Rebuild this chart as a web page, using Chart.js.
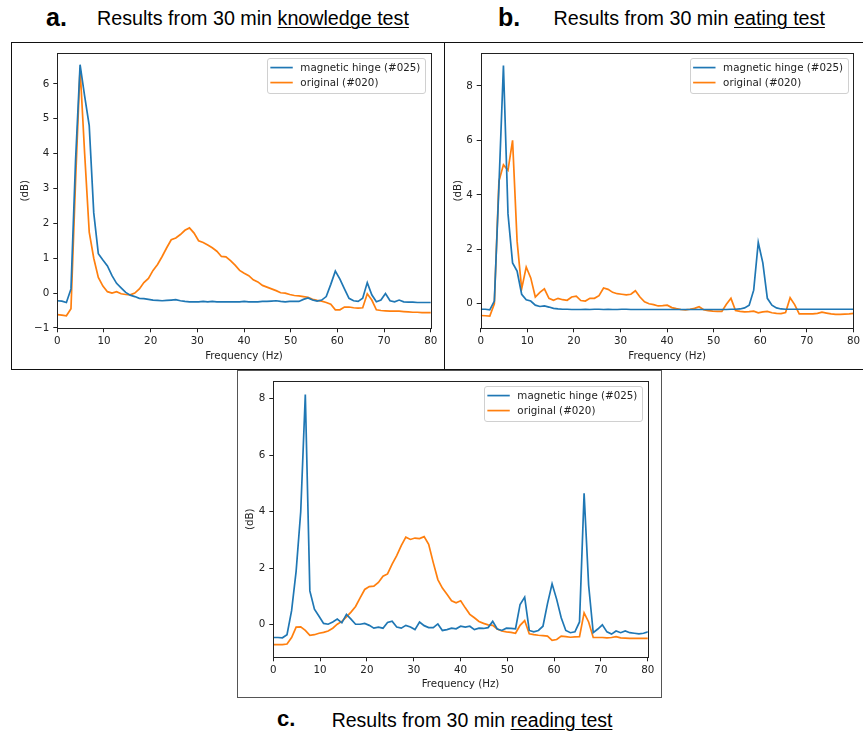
<!DOCTYPE html>
<html>
<head>
<meta charset="utf-8">
<title>Frequency response: magnetic hinge vs original</title>
<script src="https://cdn.jsdelivr.net/npm/chart.js@4.4.1/dist/chart.umd.min.js"></script>
<style>
  html, body { margin: 0; padding: 0; background: #fff; }
  body { width: 863px; height: 733px; position: relative; overflow: hidden;
         font-family: 'Liberation Sans', Arial, sans-serif; color: #000; }
  .frame { position: absolute; box-sizing: border-box; border: 1px solid #111; }
  .panel { position: absolute; }
  .panel canvas { display: block; }
  .ttl { position: absolute; line-height: 1; white-space: nowrap; }
  .ttl u { text-decoration-thickness: 1.4px; text-underline-offset: 2px; }
</style>
</head>
<body>

<div class="frame" style="left:11px;top:42px;width:434px;height:328px"></div>
<div class="frame" style="left:444px;top:42px;width:430px;height:328px"></div>
<div class="frame" style="left:237px;top:370px;width:425px;height:328px;border-color:#555"></div>

<div class="ttl" style="left:46px;top:4.8px;font-size:25px;font-weight:bold">a.</div>
<div class="ttl" style="left:97px;top:9.3px;font-size:19.7px">Results from 30 min <u>knowledge test</u></div>
<div class="ttl" style="left:498px;top:4.8px;font-size:25px;font-weight:bold">b.</div>
<div class="ttl" style="left:553.5px;top:9.3px;font-size:19.7px">Results from 30 min <u>eating test</u></div>
<div class="ttl" style="left:277px;top:708.4px;font-size:22px;font-weight:bold">c.</div>
<div class="ttl" style="left:331.7px;top:710.5px;font-size:19.5px">Results from 30 min <u>reading test</u></div>

<div class="panel" style="left:12px;top:43px"><canvas id="chartA" width="432" height="326"></canvas></div>
<div class="panel" style="left:445px;top:43px"><canvas id="chartB" width="418" height="326"></canvas></div>
<div class="panel" style="left:238px;top:371px"><canvas id="chartC" width="423" height="326"></canvas></div>

<script>
// FFT bin frequencies (Hz)
const freqHz = [0, 0.98, 1.95, 2.93, 3.91, 4.88, 5.86, 6.84, 7.81, 8.79,
  9.77, 10.74, 11.72, 12.70, 13.67, 14.65, 15.63, 16.60, 17.58, 18.55,
  19.53, 20.51, 21.48, 22.46, 23.44, 24.41, 25.39, 26.37, 27.34, 28.32,
  29.30, 30.27, 31.25, 32.23, 33.20, 34.18, 35.16, 36.13, 37.11, 38.09,
  39.06, 40.04, 41.02, 41.99, 42.97, 43.95, 44.92, 45.90, 46.88, 47.85,
  48.83, 49.80, 50.78, 51.76, 52.73, 53.71, 54.69, 55.66, 56.64, 57.62,
  58.59, 59.57, 60.55, 61.52, 62.50, 63.48, 64.45, 65.43, 66.41, 67.38,
  68.36, 69.34, 70.31, 71.29, 72.27, 73.24, 74.22, 75.20, 76.17, 77.15,
  78.13, 79.10, 80.08];

const seriesNames = ['magnetic hinge (#025)', 'original (#020)'];
const seriesColors = ['#1f77b4', '#ff7f0e'];
const xTicks = [0, 10, 20, 30, 40, 50, 60, 70, 80];

// (a) knowledge test
const knowledgeHinge = [-0.22, -0.23, -0.27, 0.12, 3.8, 6.55, 5.65, 4.8, 2.3, 1.13,
  0.95, 0.78, 0.5, 0.28, 0.15, 0.02, -0.06, -0.1, -0.15, -0.16,
  -0.18, -0.2, -0.21, -0.22, -0.21, -0.2, -0.19, -0.22, -0.24, -0.25,
  -0.25, -0.25, -0.24, -0.25, -0.24, -0.25, -0.25, -0.25, -0.25, -0.25,
  -0.25, -0.24, -0.25, -0.25, -0.25, -0.24, -0.24, -0.23, -0.22, -0.24,
  -0.25, -0.24, -0.24, -0.24, -0.18, -0.14, -0.2, -0.23, -0.2, -0.1,
  0.25, 0.63, 0.4, 0.12, -0.15, -0.22, -0.24, -0.15, 0.3, -0.05,
  -0.25, -0.2, -0.01, -0.22, -0.25, -0.2, -0.25, -0.26, -0.26, -0.27,
  -0.27, -0.27, -0.27];
const knowledgeOriginal = [-0.62, -0.63, -0.65, -0.45, 3.2, 6.45, 4.0, 1.75, 1.0, 0.45,
  0.2, 0.04, 0.0, 0.04, -0.02, -0.04, -0.05, 0.0, 0.12, 0.3,
  0.42, 0.65, 0.82, 1.05, 1.3, 1.53, 1.58, 1.68, 1.8, 1.87,
  1.72, 1.5, 1.45, 1.38, 1.3, 1.2, 1.05, 1.04, 0.93, 0.8,
  0.65, 0.57, 0.5, 0.38, 0.32, 0.22, 0.17, 0.12, 0.07, 0.01,
  0.0, -0.04, -0.07, -0.08, -0.1, -0.12, -0.18, -0.21, -0.23, -0.27,
  -0.32, -0.48, -0.48, -0.4, -0.4, -0.42, -0.43, -0.42, -0.02, -0.2,
  -0.48, -0.5, -0.51, -0.52, -0.52, -0.52, -0.53, -0.54, -0.55, -0.55,
  -0.56, -0.56, -0.56];

// (b) eating test
const eatingHinge = [-0.2, -0.2, -0.22, 0.1, 4.3, 8.75, 3.3, 1.5, 1.2, 0.35,
  0.15, 0.1, -0.05, -0.1, -0.08, -0.12, -0.17, -0.19, -0.2, -0.2,
  -0.21, -0.21, -0.21, -0.2, -0.21, -0.2, -0.2, -0.21, -0.2, -0.21,
  -0.21, -0.2, -0.2, -0.21, -0.21, -0.21, -0.21, -0.21, -0.21, -0.21,
  -0.21, -0.21, -0.21, -0.21, -0.21, -0.21, -0.21, -0.21, -0.21, -0.21,
  -0.21, -0.21, -0.21, -0.21, -0.21, -0.2, -0.2, -0.19, -0.15, -0.05,
  0.5, 2.25, 1.5, 0.2, -0.05, -0.15, -0.19, -0.2, -0.2, -0.2,
  -0.2, -0.2, -0.2, -0.2, -0.2, -0.2, -0.2, -0.2, -0.2, -0.2,
  -0.2, -0.2, -0.2];
const eatingOriginal = [-0.43, -0.44, -0.45, 0.0, 4.5, 5.1, 4.9, 6.0, 2.3, 0.55,
  1.35, 0.95, 0.25, 0.42, 0.55, 0.2, 0.13, 0.2, 0.15, 0.13,
  0.25, 0.28, 0.12, 0.1, 0.2, 0.2, 0.3, 0.58, 0.53, 0.42,
  0.37, 0.35, 0.33, 0.35, 0.48, 0.25, 0.07, 0.0, -0.03, -0.08,
  -0.07, -0.05, -0.14, -0.18, -0.21, -0.22, -0.2, -0.17, -0.11, -0.22,
  -0.25, -0.27, -0.28, -0.28, -0.02, 0.2, -0.25, -0.28, -0.3, -0.29,
  -0.27, -0.33, -0.3, -0.28, -0.33, -0.35, -0.36, -0.32, 0.22, -0.03,
  -0.37, -0.37, -0.37, -0.37, -0.35, -0.31, -0.34, -0.37, -0.39, -0.39,
  -0.38, -0.37, -0.35];

// (c) reading test
const readingHinge = [-0.45, -0.45, -0.46, -0.35, 0.5, 1.9, 4.0, 8.15, 1.2, 0.55,
  0.3, 0.05, 0.02, 0.1, 0.2, 0.07, 0.37, 0.2, 0.02, 0.02,
  0.05, -0.02, -0.12, -0.08, -0.12, 0.08, 0.13, -0.08, -0.12, -0.02,
  -0.08, -0.17, 0.1, -0.03, -0.1, -0.1, 0.03, -0.2, -0.17, -0.12,
  -0.14, -0.05, -0.08, -0.05, -0.17, -0.12, -0.13, -0.1, 0.12, -0.15,
  -0.2, -0.12, -0.13, -0.14, 0.72, 0.98, -0.2, -0.25, -0.2, -0.05,
  0.75, 1.45, 0.9, 0.25, -0.2, -0.28, -0.25, 0.1, 4.65, 1.4,
  -0.28, -0.15, 0.0, -0.25, -0.33, -0.22, -0.28, -0.22, -0.28, -0.3,
  -0.32, -0.3, -0.25];
const readingOriginal = [-0.7, -0.7, -0.7, -0.68, -0.45, -0.08, -0.07, -0.2, -0.37, -0.35,
  -0.3, -0.27, -0.22, -0.12, 0.02, 0.12, 0.28, 0.45, 0.65, 0.95,
  1.25, 1.35, 1.37, 1.5, 1.72, 1.8, 2.15, 2.45, 2.8, 3.1,
  3.02, 3.07, 3.05, 3.12, 2.85, 2.2, 1.6, 1.3, 1.08, 0.85,
  0.78, 0.85, 0.6, 0.37, 0.25, 0.12, 0.05, 0.0, -0.02, -0.15,
  -0.22, -0.25, -0.27, -0.3, -0.02, 0.15, -0.32, -0.35, -0.37, -0.38,
  -0.4, -0.55, -0.52, -0.4, -0.42, -0.44, -0.43, -0.42, 0.42, 0.1,
  -0.45, -0.45, -0.45, -0.46, -0.45, -0.42, -0.46, -0.47, -0.48, -0.48,
  -0.48, -0.48, -0.48];

const yTicksA = [-1, 0, 1, 2, 3, 4, 5, 6];
const yTicksB = [0, 2, 4, 6, 8];
const yTicksC = [0, 2, 4, 6, 8];

const FONT = "'DejaVu Sans', 'Noto Sans', sans-serif";
const FONT_SIZE = 10.3;
const INK = '#222';

Chart.defaults.font.family = FONT;
Chart.defaults.font.size = FONT_SIZE;
Chart.defaults.color = INK;

// closed box around the plotting area
const axesFrame = {
  id: 'axesFrame',
  afterDatasetsDraw(chart) {
    const { ctx, chartArea: a } = chart;
    ctx.save();
    ctx.strokeStyle = INK;
    ctx.lineWidth = 1;
    const l = Math.round(a.left) + 0.5, t = Math.round(a.top) + 0.5;
    const r = Math.round(a.right) + 0.5, b = Math.round(a.bottom) + 0.5;
    ctx.strokeRect(l, t, r - l, b - t);
    ctx.restore();
  }
};

// legend box in the upper-right corner of the plotting area
const cornerLegend = {
  id: 'cornerLegend',
  afterDraw(chart) {
    const { ctx, chartArea: a } = chart;
    const ds = chart.data.datasets;
    ctx.save();
    ctx.font = FONT_SIZE + 'px ' + FONT;
    const textW = Math.max(...ds.map(d => ctx.measureText(d.label).width));
    const padL = 3.3, handle = 22.4, gap = 7.6, padR = 5;
    const w = padL + handle + gap + textW + padR;
    const h = 35;
    const right = a.right - 5.4;
    const top = a.top + 4.4;
    const left = right - w;
    ctx.beginPath();
    ctx.roundRect(Math.round(left) + 0.5, Math.round(top) + 0.5, Math.round(w), h, 2.5);
    ctx.fillStyle = 'rgba(255,255,255,0.85)';
    ctx.fill();
    ctx.strokeStyle = '#d0d0d0';
    ctx.lineWidth = 1;
    ctx.stroke();
    ds.forEach((d, i) => {
      const y = top + 10 + i * 15;
      ctx.strokeStyle = d.borderColor;
      ctx.lineWidth = d.borderWidth;
      ctx.beginPath();
      ctx.moveTo(left + padL, y);
      ctx.lineTo(left + padL + handle, y);
      ctx.stroke();
      ctx.fillStyle = INK;
      ctx.textBaseline = 'middle';
      ctx.textAlign = 'left';
      ctx.fillText(d.label, left + padL + handle + gap, y + 0.5);
    });
    ctx.restore();
  }
};

function minusFmt(v) {
  return (v < 0 ? '\u2212' : '') + Math.abs(v);
}

function makeChart(id, hinge, original, cfg) {
  const toPoints = arr => freqHz.map((f, i) => ({ x: f, y: arr[i] }));
  const values = [hinge, original];
  return new Chart(document.getElementById(id), {
    type: 'line',
    data: {
      datasets: seriesNames.map((name, s) => ({
        label: name,
        data: toPoints(values[s]),
        borderColor: seriesColors[s],
        backgroundColor: seriesColors[s],
        borderWidth: 1.7,
        pointRadius: 0,
        tension: 0,
        fill: false
      }))
    },
    options: {
      responsive: false,
      animation: false,
      events: [],
      layout: { padding: { left: 0, top: cfg.padTop, right: cfg.padRight, bottom: 0 } },
      plugins: { legend: { display: false }, tooltip: { enabled: false } },
      scales: {
        x: {
          type: 'linear',
          min: 0, max: 80,
          afterBuildTicks: sc => { sc.ticks = xTicks.map(v => ({ value: v })); },
          afterFit: sc => { sc.height = cfg.xHeight; },
          ticks: { maxRotation: 0, autoSkip: false, padding: 3, color: INK },
          grid: { drawOnChartArea: false, drawTicks: true, tickLength: 4, color: INK, lineWidth: 1 },
          border: { display: false },
          title: { display: true, text: 'Frequency (Hz)', color: INK,
                   padding: { top: 0, bottom: 6.8 } }
        },
        y: {
          type: 'linear',
          min: cfg.yMin, max: cfg.yMax,
          afterBuildTicks: sc => { sc.ticks = cfg.yTicks.map(v => ({ value: v })); },
          afterFit: sc => { sc.width = cfg.yWidth; },
          ticks: { padding: 4, color: INK, callback: minusFmt },
          grid: { drawOnChartArea: false, drawTicks: true, tickLength: 4, color: INK, lineWidth: 1 },
          border: { display: false },
          title: { display: true, text: '(dB)', color: INK,
                   padding: { top: cfg.yTitlePad, bottom: 0 } }
        }
      }
    },
    plugins: [axesFrame, cornerLegend]
  });
}

makeChart('chartA', knowledgeHinge, knowledgeOriginal, {
  padTop: 7.7, padRight: 13.3, yWidth: 45.3, xHeight: 40.7, yTitlePad: 6.8,
  yMin: -1.01, yMax: 6.88, yTicks: yTicksA
});
makeChart('chartB', eatingHinge, eatingOriginal, {
  padTop: 7.7, padRight: 8, yWidth: 35.7, xHeight: 40.7, yTitlePad: 7.1,
  yMin: -0.9, yMax: 9.2, yTicks: yTicksB
});
makeChart('chartC', readingHinge, readingOriginal, {
  padTop: 6.7, padRight: 13.3, yWidth: 35.3, xHeight: 39.7, yTitlePad: 5.8,
  yMin: -1.15, yMax: 8.62, yTicks: yTicksC
});
</script>
</body>
</html>
